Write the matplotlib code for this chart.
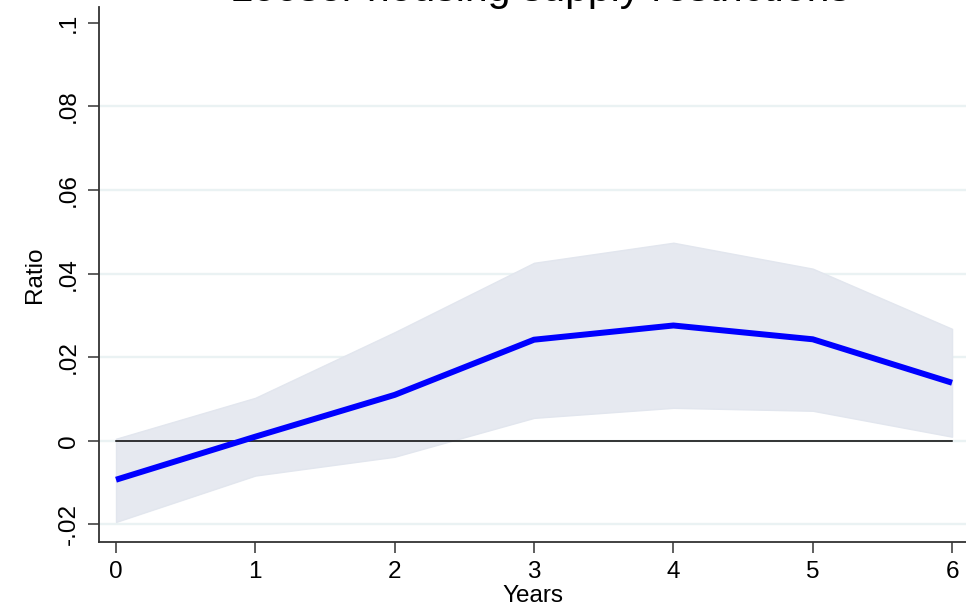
import numpy as np
import matplotlib.pyplot as plt

plt.rcParams['font.family'] = ['Liberation Sans', 'DejaVu Sans']

# values
years = [0, 1, 2, 3, 4, 5, 6]
ratio = [-0.0093, 0.0010, 0.0110, 0.0242, 0.0276, 0.0243, 0.0139]
ci_upper = [0.0005, 0.0103, 0.0260, 0.0426, 0.0474, 0.0412, 0.0268]
ci_lower = [-0.0194, -0.0083, -0.0038, 0.0055, 0.0079, 0.0072, 0.0010]
yticks = [-0.02, 0, 0.02, 0.04, 0.06, 0.08, 0.1]
ytick_labels = ['-.02', '0', '.02', '.04', '.06', '.08', '.1']

fig = plt.figure(figsize=(9.66, 6.09), dpi=100)
ax = fig.add_axes([99/966, 1 - 542/609, 1 - 99/966, (542 - 7)/609])

ax.fill_between(years, ci_lower, ci_upper, color='#e6e9f0', edgecolor='#e2e6ee',
                linewidth=1, zorder=2)
ax.plot([years[0], years[-1]], [0, 0], color='black', linewidth=1.1, zorder=3)
ax.plot(years, ratio, color='#0000ff', linewidth=4.3, zorder=4, solid_capstyle='butt')

ax.set_xlim(-0.122, 6.10)
ax.set_ylim(-0.0242, 0.1038)
ax.set_xticks(years)
ax.set_xticklabels([str(y) for y in years])
ax.set_yticks(yticks)
ax.set_yticklabels(ytick_labels, rotation=90, va='center')

ax.yaxis.grid(True, color='#eaf2f3', linewidth=1.7, zorder=0)
ax.get_ygridlines()[-1].set_visible(False)
ax.set_axisbelow(True)
for side in ['top', 'right']:
    ax.spines[side].set_visible(False)
for side in ['left', 'bottom']:
    ax.spines[side].set_color('#333333')
    ax.spines[side].set_linewidth(1.3)

ax.tick_params(axis='both', length=8, width=1.1, color='#333333', labelsize=17.5, pad=6)
ax.set_xlabel('Years', fontsize=17.5, labelpad=1)
ax.set_ylabel('Ratio', fontsize=17.5, labelpad=8)

fig.text(0.5585, 1 - 1/609, 'Looser housing supply restrictions', fontsize=29.5,
         ha='center', va='baseline')

fig.savefig('out.png', dpi=100)
